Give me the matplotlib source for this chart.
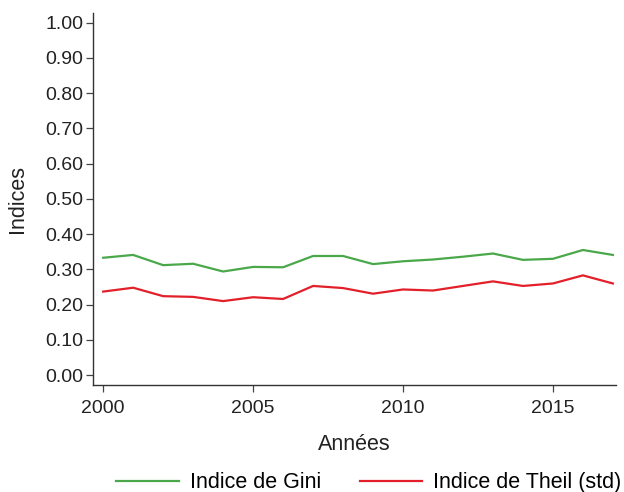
import matplotlib
matplotlib.use("Agg")
import matplotlib.pyplot as plt
import numpy as np

plt.rcParams["font.family"] = ["Liberation Sans", "DejaVu Sans"]

years = list(range(2000, 2018))
gini = [0.333, 0.341, 0.312, 0.316, 0.294, 0.307, 0.306, 0.338, 0.338,
        0.315, 0.323, 0.328, 0.336, 0.345, 0.327, 0.330, 0.355, 0.341]
theil = [0.237, 0.248, 0.224, 0.222, 0.210, 0.221, 0.216, 0.253, 0.247,
         0.231, 0.243, 0.240, 0.253, 0.266, 0.253, 0.260, 0.283, 0.260]

y_ticks = np.arange(0, 1.01, 0.1)
x_ticks = [2000, 2005, 2010, 2015]


def main():
    fig = plt.figure(figsize=(6.24, 4.92), dpi=100)
    ax = fig.add_axes([0.149, 0.2175, 0.838, 0.7565])

    ax.plot(years, gini, color="#4aa84a", linewidth=1.6, label="Indice de Gini")
    ax.plot(years, theil, color="#e3202a", linewidth=1.6, label="Indice de Theil (std)")

    ax.set_xlim(1999.66, 2017.1)
    ax.set_ylim(-0.028, 1.028)
    ax.set_yticks(y_ticks)
    ax.set_yticklabels([f"{v:.2f}" for v in y_ticks])
    ax.set_xticks(x_ticks)

    for side in ["top", "right"]:
        ax.spines[side].set_visible(False)
    for side in ["left", "bottom"]:
        ax.spines[side].set_color("#333333")
        ax.spines[side].set_linewidth(1.0)

    ax.tick_params(axis="both", direction="out", length=5, width=0.9,
                   color="#444444", labelsize=14, labelcolor="#222222")
    ax.tick_params(axis="x", pad=6)
    ax.tick_params(axis="y", pad=2)

    ax.set_xlabel("Années", fontsize=15.5, color="#222222", labelpad=12)
    ax.set_ylabel("Indices", fontsize=15.5, color="#222222", labelpad=12)

    fig.legend(loc="lower center", bbox_to_anchor=(0.591, -0.042), ncol=2,
               frameon=False, fontsize=15.5, handlelength=2.9,
               handletextpad=0.5, columnspacing=1.8)

    fig.savefig("out.png", dpi=100)
    plt.close(fig)


if __name__ == "__main__":
    main()
